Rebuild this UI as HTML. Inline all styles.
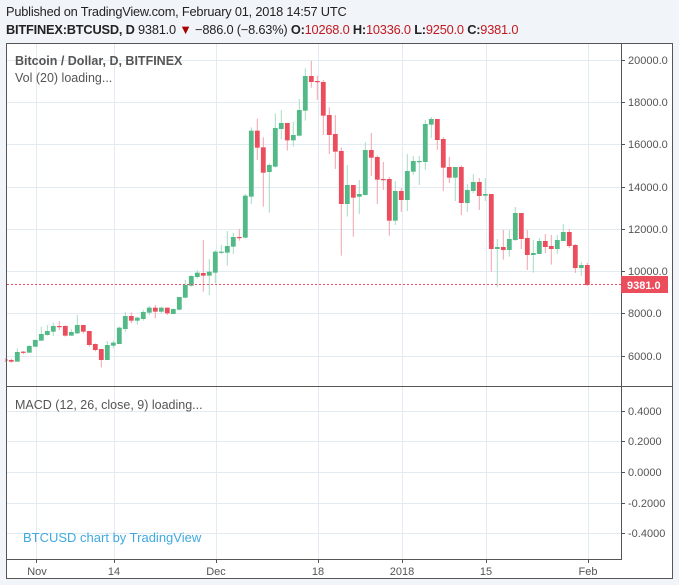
<!DOCTYPE html>
<html><head><meta charset="utf-8"><style>
body{margin:0;background:#f1f5f9;width:679px;height:585px;overflow:hidden;font-family:"Liberation Sans",sans-serif}
.h1{position:absolute;left:6px;top:4px;font-size:12.8px;color:#222;letter-spacing:-0.2px}
.h2{position:absolute;left:6px;top:22px;font-size:12.8px;color:#222;letter-spacing:-0.2px}
.h2 b{font-weight:bold}.r{color:#c21820}
svg{position:absolute;left:0;top:0}
</style></head><body>
<div class="h1">Published on TradingView.com, February 01, 2018 14:57 UTC</div>
<div class="h2"><b>BITFINEX:BTCUSD, D</b> 9381.0 <span style="color:#a00">▼</span> −886.0 (−8.63%) <b>O:</b><span class="r">10268.0</span> <b>H:</b><span class="r">10336.0</span> <b>L:</b><span class="r">9250.0</span> <b>C:</b><span class="r">9381.0</span></div>
<svg id="s" width="679" height="585" xmlns="http://www.w3.org/2000/svg">
<rect x="6.5" y="43.5" width="666" height="535" fill="#fff" stroke="#555"/>
<g stroke="#e3ebf2" stroke-width="1">
<line x1="7" x2="621" y1="60.5" y2="60.5"/><line x1="7" x2="621" y1="102.5" y2="102.5"/><line x1="7" x2="621" y1="144.5" y2="144.5"/><line x1="7" x2="621" y1="187.5" y2="187.5"/><line x1="7" x2="621" y1="229.5" y2="229.5"/><line x1="7" x2="621" y1="271.5" y2="271.5"/><line x1="7" x2="621" y1="313.5" y2="313.5"/><line x1="7" x2="621" y1="356.5" y2="356.5"/>
<line x1="7" x2="621" y1="411.5" y2="411.5"/><line x1="7" x2="621" y1="441.5" y2="441.5"/><line x1="7" x2="621" y1="472.5" y2="472.5"/><line x1="7" x2="621" y1="503.5" y2="503.5"/><line x1="7" x2="621" y1="533.5" y2="533.5"/>
<line x1="36.5" x2="36.5" y1="44" y2="559"/><line x1="114.5" x2="114.5" y1="44" y2="559"/><line x1="216.5" x2="216.5" y1="44" y2="559"/><line x1="318.5" x2="318.5" y1="44" y2="559"/><line x1="402.5" x2="402.5" y1="44" y2="559"/><line x1="486.5" x2="486.5" y1="44" y2="559"/><line x1="588.5" x2="588.5" y1="44" y2="559"/>
</g>
<line x1="621.5" x2="621.5" y1="43" y2="559" stroke="#555"/>
<line x1="6" x2="672" y1="386.5" y2="386.5" stroke="#555"/>
<line x1="6" x2="622" y1="559.5" y2="559.5" stroke="#555"/>
<g id="c"></g>
<line x1="7" x2="621" y1="284.5" y2="284.5" stroke="#eb4d5c" stroke-dasharray="2,2"/>
<g stroke="#555"><line x1="621" x2="625" y1="60.5" y2="60.5"/><line x1="621" x2="625" y1="102.5" y2="102.5"/><line x1="621" x2="625" y1="144.5" y2="144.5"/><line x1="621" x2="625" y1="187.5" y2="187.5"/><line x1="621" x2="625" y1="229.5" y2="229.5"/><line x1="621" x2="625" y1="271.5" y2="271.5"/><line x1="621" x2="625" y1="313.5" y2="313.5"/><line x1="621" x2="625" y1="356.5" y2="356.5"/>
<line x1="621" x2="625" y1="411.5" y2="411.5"/><line x1="621" x2="625" y1="441.5" y2="441.5"/><line x1="621" x2="625" y1="472.5" y2="472.5"/><line x1="621" x2="625" y1="503.5" y2="503.5"/><line x1="621" x2="625" y1="533.5" y2="533.5"/>
<line x1="36.5" x2="36.5" y1="559" y2="563"/><line x1="114.5" x2="114.5" y1="559" y2="563"/><line x1="216.5" x2="216.5" y1="559" y2="563"/><line x1="318.5" x2="318.5" y1="559" y2="563"/><line x1="402.5" x2="402.5" y1="559" y2="563"/><line x1="486.5" x2="486.5" y1="559" y2="563"/><line x1="588.5" x2="588.5" y1="559" y2="563"/></g>
<g font-family="Liberation Sans,sans-serif" font-size="11" fill="#555">
<text x="628" y="64">20000.0</text><text x="628" y="106">18000.0</text><text x="628" y="148">16000.0</text><text x="628" y="191">14000.0</text><text x="628" y="233">12000.0</text><text x="628" y="275">10000.0</text><text x="628" y="317">8000.0</text><text x="628" y="360">6000.0</text>
<text x="628" y="415">0.4000</text><text x="628" y="445">0.2000</text><text x="628" y="476">0.0000</text><text x="628" y="507">-0.2000</text><text x="628" y="537">-0.4000</text>
<g text-anchor="middle"><text x="37" y="575">Nov</text><text x="114" y="575">14</text><text x="216" y="575">Dec</text><text x="318" y="575">18</text><text x="402" y="575">2018</text><text x="486" y="575">15</text><text x="588" y="575">Feb</text></g>
</g>
<rect x="621" y="276" width="47" height="17" fill="#eb4d5c"/>
<text x="627" y="289" font-family="Liberation Sans,sans-serif" font-size="11" font-weight="bold" fill="#fff">9381.0</text>
<g font-family="Liberation Sans,sans-serif" font-size="12.5" fill="#555">
<text x="15" y="65" font-weight="bold">Bitcoin / Dollar, D, BITFINEX</text>
<text x="15" y="82">Vol (20) loading...</text>
<text x="15" y="409">MACD (12, 26, close, 9) loading...</text>
<text x="23" y="542" fill="#3fa9e0" font-size="13">BTCUSD chart by TradingView</text>
</g>
</svg>
<script>
var d=[
[928,932,925,936],[930,935,926,938],
[935,906,935,895],[905,908,903,912],[908,888,885,908],[890,870,868,892],[872,852,830,872],[855,843,825,857],[845,828,818,858],[828,831,813,840],[828,857,826,860],[857,846,838,857],[850,825,795,852],[825,845,825,850],[843,885,863,890],[882,900,880,904],[897,930,897,952],[930,885,873,930],[887,878,872,895],[882,833,830,882],[837,798,786,845],[798,812,787,820],[812,803,800,824],[807,786,780,812],[788,773,768,795],[773,785,765,805],[785,773,770,790],[773,790,773,795],[792,777,775,792],[779,741,741,781],[743,705,690,745],[707,678,676,710],[681,668,660,686],[669,677,570,725],[677,665,627,735],[668,605,600,700],[608,605,585,612],[608,588,543,647],[590,561,548,612],[561,564,537,572],[563,437,432,565],[440,242,232,462],[242,293,206,330],[292,368,262,470],[366,345,340,488],[350,234,190,352],[237,219,180,268],[219,271,219,302],[271,255,215,290],[257,180,147,260],[182,78,55,212],[78,96,33,113],[93,95,77,150],
[96,197,90,255],[195,255,172,312],[252,305,195,357],[303,462,292,617],[462,405,345,500],[405,443,405,560],[440,432,390,492],[435,300,276,437],[300,323,249,378],[321,389,316,462],[387,389,336,420],[387,512,381,557],[512,423,393,525],[423,450,414,486],[450,363,312,483],[365,333,318,375],[336,333,318,405],[336,222,210,360],[224,207,201,264],[207,270,207,300],[267,353,262,423],[351,383,321,399],[383,351,351,453],[351,459,346,495],[459,420,402,486],[423,396,372,430],[396,438,384,480],[437,432,384,453],[432,597,432,665],[597,591,567,711],[591,600,540,629],[600,567,540,620],[570,489,471,573],[489,567,489,597],[564,615,540,660],[615,609,570,668],[612,573,564,612],[573,591,552,609],[588,597,555,644],[597,570,555,612],[573,546,522,573],[546,588,537,594],[585,654,582,669],[654,645,636,678],[645,705,639,708]];
var s='';
for(var i=0;i<d.length;i++){var x=5.3+6*i,o=50+d[i][0]/3,c=50+d[i][1]/3,h=50+d[i][2]/3,l=50+d[i][3]/3;
var up=c<o,col=up?'#53b987':'#eb4d5c',wc=up?'#a9dcc3':'#f0a3ab';
var t=Math.min(o,c),b=Math.max(o,c);if(b-t<1.2){b=t+1.2;}
s+='<line x1="'+x+'" x2="'+x+'" y1="'+h+'" y2="'+l+'" stroke="'+wc+'" stroke-width="1"/>';
var bx=Math.max(x-2.4,7);s+='<rect x="'+bx+'" y="'+t+'" width="'+(x+2.4-bx)+'" height="'+(b-t)+'" fill="'+col+'"/>';}
document.getElementById('c').innerHTML=s;
</script>
</body></html>
